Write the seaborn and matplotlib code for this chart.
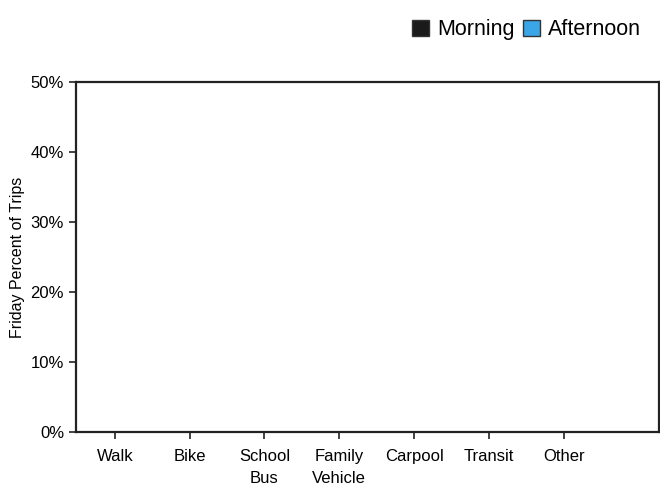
import pandas as pd
import matplotlib
matplotlib.use("Agg")
import matplotlib.pyplot as plt
import seaborn as sns
from matplotlib.patches import Patch
from matplotlib.ticker import FuncFormatter

modes = ["Walk", "Bike", "School\nBus", "Family\nVehicle", "Carpool", "Transit", "Other"]
morning = [0, 0, 0, 0, 0, 0, 0]
afternoon = [0, 0, 0, 0, 0, 0, 0]
periods = ["Morning", "Afternoon"]
colors = ["#1a1a1a", "#3aa6e8"]

df = pd.DataFrame({
    "mode": modes * 2,
    "period": ["Morning"] * len(modes) + ["Afternoon"] * len(modes),
    "pct": morning + afternoon,
})

sns.set_style("white")
plt.rcParams["font.family"] = ["Liberation Sans", "DejaVu Sans"]
plt.rcParams["text.color"] = "black"
plt.rcParams["axes.labelcolor"] = "black"
plt.rcParams["xtick.color"] = "black"
plt.rcParams["ytick.color"] = "black"

fig = plt.figure(figsize=(6.6, 4.92), dpi=100)
ax = fig.add_axes([0.115, 0.122, 0.883, 0.711])

sns.barplot(data=df, x="mode", y="pct", hue="period", palette=colors,
            edgecolor="#222222", ax=ax, legend=False)

ax.set_xlim(-0.52, 7.27)
ax.set_ylim(0, 0.5)
ax.set_yticks([0, 0.1, 0.2, 0.3, 0.4, 0.5])
ax.yaxis.set_major_formatter(FuncFormatter(lambda v, _: f"{v * 100:.0f}%"))
ax.set_xlabel("")
ax.set_ylabel("Friday Percent of Trips", fontsize=11.5, labelpad=4)
ax.tick_params(axis="both", which="major", length=5, width=1.2, color="#222222",
               labelsize=12, direction="out", bottom=True, left=True)
ax.tick_params(axis="x", pad=7)
for lbl in ax.get_xticklabels():
    lbl.set_linespacing(1.6)
for side in ["top", "right", "bottom", "left"]:
    ax.spines[side].set_visible(True)
    ax.spines[side].set_color("#222222")
    ax.spines[side].set_linewidth(1.6)

handles = [Patch(facecolor=c, edgecolor="#333333", label=p) for p, c in zip(periods, colors)]
fig.legend(handles=handles, loc="upper right", bbox_to_anchor=(1.0, 1.0), ncol=2,
           frameon=False, fontsize=15.5, handlelength=0.8, handleheight=0.8,
           handletextpad=0.35, columnspacing=0.4)

fig.savefig("out.png", dpi=100)
